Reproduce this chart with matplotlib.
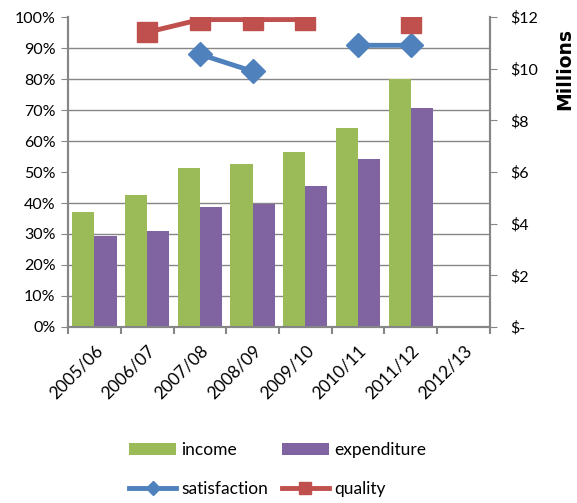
import numpy as np
import matplotlib
matplotlib.use("Agg")
import matplotlib.pyplot as plt
from matplotlib.ticker import FixedLocator

plt.rcParams['font.family'] = ['Lato', 'DejaVu Sans']
plt.rcParams['font.size'] = 11.5

years = ['2005/06', '2006/07', '2007/08', '2008/09', '2009/10', '2010/11', '2011/12', '2012/13']

# income and expenditure in $ millions (right axis)
income = [4.45, 5.12, 6.14, 6.31, 6.76, 7.69, 9.60, np.nan]
expenditure = [3.52, 3.72, 4.66, 4.75, 5.45, 6.49, 8.47, np.nan]

# survey results as fractions (left axis)
satisfaction = [np.nan, np.nan, 0.88, 0.825, np.nan, 0.909, 0.909, np.nan]
quality = [np.nan, 0.951, 0.992, 0.992, 0.992, np.nan, 0.981, np.nan]

pct_ticks = np.arange(0, 1.01, 0.1)
money_ticks = [0, 2, 4, 6, 8, 10, 12]
money_labels = ['$-', '$2', '$4', '$6', '$8', '$10', '$12']

green = '#9BBB59'
purple = '#8064A2'
blue = '#4F81BD'
red = '#C0504D'
grey = '#868686'

fig = plt.figure(figsize=(5.77, 5.03), dpi=100)
ax = fig.add_axes([0.118, 0.350, 0.731, 0.616])
ax2 = ax.twinx()

x = np.arange(len(years))
w = 0.42

# bars on the money axis
ax2.bar(x - w / 2, income, w, color=green, label='income', zorder=3)
ax2.bar(x + w / 2, expenditure, w, color=purple, label='expenditure', zorder=3)
ax2.set_ylim(0, 12)
ax2.yaxis.set_major_locator(FixedLocator(money_ticks))
ax2.set_yticklabels(money_labels)
# horizontal grid every 10% of the left scale, kept behind the bars
ax2.yaxis.set_minor_locator(FixedLocator(np.arange(0, 12.01, 1.2)))
ax2.grid(which='minor', axis='y', color=grey, linewidth=1, zorder=0)
ax2.tick_params(axis='y', which='minor', length=0)
ax2.tick_params(axis='y', which='major', length=5, color=grey, pad=10)
ax2.set_ylabel('Millions', fontweight='bold', fontsize=13.5, family='DejaVu Sans')
ax2.yaxis.set_label_coords(1.155, 0.832)

# lines on the percentage axis, drawn above the bars
ax.set_zorder(ax2.get_zorder() + 1)
ax.patch.set_visible(False)
ax.plot(x, satisfaction, color=blue, linewidth=3.5, marker='D', markersize=12,
        label='satisfaction')
ax.plot(x, quality, color=red, linewidth=3.5, marker='s', markersize=14,
        label='quality')
ax.set_ylim(0, 1)
ax.set_yticks(pct_ticks)
ax.set_yticklabels([f'{int(round(t * 100))}%' for t in pct_ticks])
ax.tick_params(axis='y', length=5, color=grey, pad=4)

ax.set_xlim(-0.5, len(years) - 0.5)
ax.set_xticks(x)
ax.set_xticklabels(years, rotation=45, ha='right', rotation_mode='anchor', fontsize=12.5)
ax.tick_params(axis='x', which='major', length=0, pad=11)
ax.xaxis.set_minor_locator(FixedLocator(np.arange(-0.5, len(years), 1)))
ax.tick_params(axis='x', which='minor', length=5, color=grey, width=1.5)

for a in (ax, ax2):
    a.spines['top'].set_visible(False)
    for s in ('left', 'right', 'bottom'):
        a.spines[s].set_color(grey)
        a.spines[s].set_linewidth(1.5)

h1, l1 = ax2.get_legend_handles_labels()
h2, l2 = ax.get_legend_handles_labels()
handles = [h1[0], h2[0], h1[1], h2[1]]
labels = [l1[0], l2[0], l1[1], l2[1]]
leg = fig.legend(handles, labels, ncol=2, loc='center', bbox_to_anchor=(0.481, 0.067),
                 frameon=False, labelspacing=1.3, columnspacing=0.8,
                 handlelength=2.7, handletextpad=0.3, fontsize=12.5, markerscale=0.6)

fig.savefig('out.png', dpi=100)
